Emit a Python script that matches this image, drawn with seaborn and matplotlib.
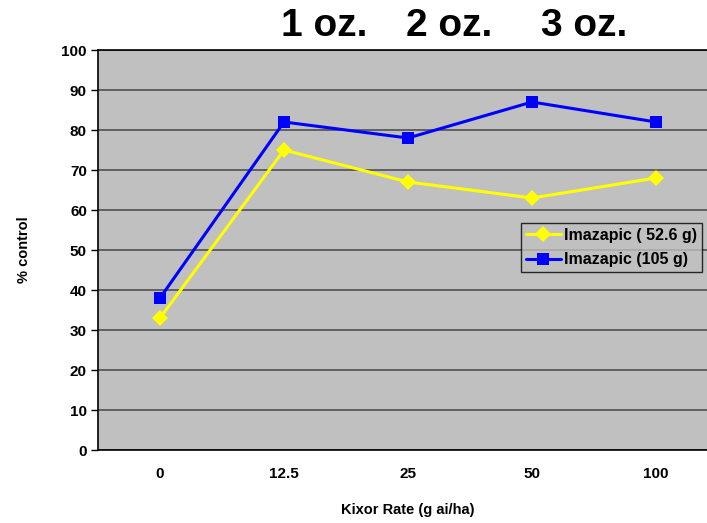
import numpy as np
import pandas as pd
import matplotlib
matplotlib.use('Agg')
import matplotlib.pyplot as plt
import seaborn as sns

rates = ['0', '12.5', '25', '50', '100']
low_rate = [33, 75, 67, 63, 68]
high_rate = [38, 82, 78, 87, 82]
series_names = ['Imazapic ( 52.6 g)', 'Imazapic (105 g)']
oz_labels = ['1 oz.', '2 oz.', '3 oz.']

df = pd.DataFrame({
    'rate': rates * 2,
    'control': low_rate + high_rate,
    'series': [series_names[0]] * 5 + [series_names[1]] * 5,
})

sns.set_style('white')
plt.rcParams['font.family'] = ['Liberation Sans', 'DejaVu Sans']
plt.rcParams['font.weight'] = 'bold'
for k in ['text.color', 'axes.labelcolor', 'xtick.color', 'ytick.color']:
    plt.rcParams[k] = 'black'

fig = plt.figure(figsize=(7.07, 5.23), dpi=100)
ax = fig.add_axes([98 / 707, 1 - 450 / 523, 620 / 707, 400 / 523])
ax.set_facecolor('#c0c0c0')

sns.lineplot(data=df, x='rate', y='control', hue='series', style='series',
             palette={series_names[0]: '#ffff00', series_names[1]: '#0000ff'},
             markers={series_names[0]: 'D', series_names[1]: 's'},
             dashes=False, linewidth=2.2, markersize=8, markeredgewidth=0,
             sort=False, ax=ax)

ax.set_xlim(-0.5, 4.5)
ax.set_ylim(0, 100)
ax.set_yticks(range(0, 101, 10))
ax.yaxis.grid(True, color='#505050', linewidth=1.2)
ax.set_axisbelow(True)
for s in ['left', 'bottom', 'top']:
    ax.spines[s].set_color('black')
    ax.spines[s].set_linewidth(1.2)
ax.spines['right'].set_visible(False)

# category labels centred, tick marks on the boundaries
ax.set_xticks(range(len(rates)))
ax.set_xticklabels(rates)
ax.set_xticks(np.arange(0.5, 4.5, 1), minor=True)
ax.tick_params(axis='x', which='major', length=0, pad=12, labelsize=11)
ax.tick_params(axis='x', which='minor', length=5, direction='out', width=1)
ax.tick_params(axis='y', length=5, direction='out', width=1, labelsize=11, pad=3, left=True)
for lbl in ax.get_xticklabels() + ax.get_yticklabels():
    lbl.set_fontweight('bold')

ax.set_xlabel('Kixor Rate (g ai/ha)', fontsize=10.5, fontweight='bold', labelpad=16)
ax.set_ylabel('% control', fontsize=10.5, fontweight='bold', labelpad=22)

leg = ax.legend(loc='upper left', bbox_to_anchor=((521 - 98) / 620, (450 - 223) / 400),
                frameon=True, fancybox=False, fontsize=11.5, handlelength=2.2,
                handletextpad=0.2, borderpad=0.3, labelspacing=0.6, borderaxespad=0)
leg.get_frame().set_edgecolor('black')
leg.get_frame().set_facecolor('#c0c0c0')
leg.get_frame().set_linewidth(1)
for t in leg.get_texts():
    t.set_fontweight('bold')

for label, xc in zip(oz_labels, [324, 449, 584]):
    fig.text(xc / 707, 1 - 26 / 523, label, fontsize=28, fontweight='bold',
             ha='center', va='center')

fig.savefig('out.png', dpi=100)
